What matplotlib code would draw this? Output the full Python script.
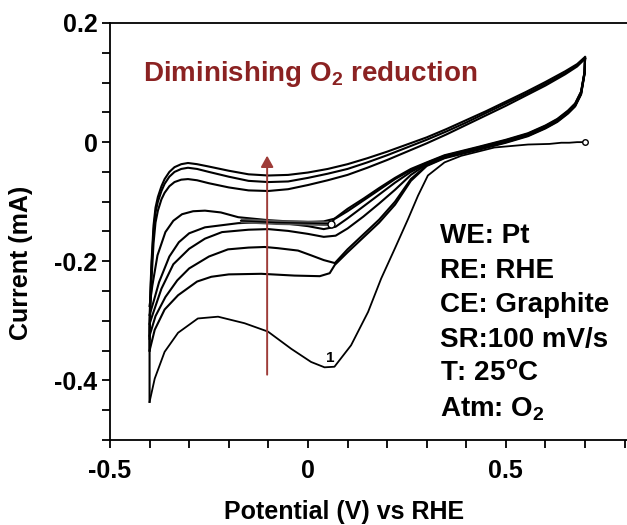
import matplotlib
matplotlib.use('Agg')
import matplotlib.pyplot as plt
from matplotlib.ticker import MultipleLocator

plt.rcParams['font.family'] = ['Liberation Sans', 'DejaVu Sans']
plt.rcParams['font.weight'] = 'bold'
plt.rcParams['axes.labelweight'] = 'bold'
plt.rcParams['mathtext.fontset'] = 'custom'
plt.rcParams['mathtext.rm'] = 'Liberation Sans:bold'
plt.rcParams['mathtext.bf'] = 'Liberation Sans:bold'

# cycle 1, cathodic scan (starts at 0.70 V, O2 reduction peak near 0.06 V)
c1_x = [0.700, 0.680, 0.660, 0.640, 0.610, 0.556, 0.471, 0.387, 0.345, 0.303, 0.278, 0.253,
        0.220, 0.185, 0.152, 0.109, 0.067, 0.042, 0.008, -0.042, -0.101, -0.160, -0.227,
        -0.278, -0.328, -0.362, -0.387, -0.400]
c1_y = [0.000, 0.000, -0.001, -0.001, -0.003, -0.004, -0.009, -0.023, -0.034, -0.056, -0.090,
        -0.129, -0.178, -0.229, -0.285, -0.341, -0.377, -0.378, -0.369, -0.347, -0.318,
        -0.304, -0.293, -0.296, -0.320, -0.352, -0.397, -0.436]

# later cathodic scans: shared part from the positive vertex
bundle_x = [0.700, 0.699, 0.690, 0.675, 0.657, 0.630, 0.600, 0.556, 0.500, 0.430, 0.345]
c2_top = [0.142, 0.115, 0.080, 0.060, 0.048, 0.034, 0.023, 0.010, -0.001, -0.013, -0.027]
c3_top = [0.141, 0.116, 0.081, 0.061, 0.049, 0.035, 0.024, 0.011, 0.000, -0.012, -0.026]
c4_top = [0.140, 0.117, 0.082, 0.062, 0.050, 0.036, 0.025, 0.012, 0.001, -0.011, -0.025]
c5_top = [0.140, 0.118, 0.083, 0.063, 0.051, 0.037, 0.026, 0.013, 0.002, -0.010, -0.024]
c6_top = [0.139, 0.118, 0.084, 0.064, 0.052, 0.038, 0.027, 0.014, 0.003, -0.009, -0.023]
c7_top = [0.139, 0.119, 0.085, 0.065, 0.053, 0.039, 0.028, 0.015, 0.004, -0.008, -0.022]

# cathodic scans, lower part
c2_x = [0.300, 0.260, 0.220, 0.180, 0.140, 0.100, 0.068, 0.055, 0.030, -0.034, -0.118, -0.200,
        -0.244, -0.280, -0.328, -0.362, -0.387, -0.400]
c2_y = [-0.040, -0.065, -0.105, -0.135, -0.160, -0.185, -0.206, -0.220, -0.225, -0.224, -0.221,
        -0.222, -0.226, -0.234, -0.257, -0.281, -0.315, -0.350]
c3_x = [0.300, 0.260, 0.220, 0.180, 0.140, 0.100, 0.068, 0.040, 0.008, -0.025, -0.076, -0.109,
        -0.150, -0.202, -0.250, -0.300, -0.330, -0.360, -0.385, -0.400]
c3_y = [-0.039, -0.062, -0.100, -0.130, -0.155, -0.180, -0.203, -0.198, -0.190, -0.182, -0.178,
        -0.176, -0.177, -0.180, -0.192, -0.212, -0.232, -0.260, -0.292, -0.325]
c4_x = [0.300, 0.260, 0.220, 0.180, 0.140, 0.100, 0.070, 0.040, 0.000, -0.050, -0.100, -0.150,
        -0.217, -0.260, -0.300, -0.340, -0.370, -0.390, -0.400]
c4_y = [-0.037, -0.055, -0.080, -0.103, -0.125, -0.145, -0.157, -0.159, -0.154, -0.149, -0.146,
        -0.147, -0.151, -0.162, -0.179, -0.205, -0.246, -0.285, -0.305]
c5_x = [0.300, 0.260, 0.220, 0.180, 0.140, 0.100, 0.070, 0.040, 0.000, -0.050, -0.100, -0.176,
        -0.260, -0.300, -0.326, -0.350, -0.376, -0.390, -0.400]
c5_y = [-0.036, -0.050, -0.068, -0.088, -0.108, -0.128, -0.142, -0.146, -0.141, -0.137, -0.134,
        -0.136, -0.143, -0.153, -0.168, -0.192, -0.235, -0.268, -0.290]
c6_x = [0.300, 0.260, 0.220, 0.180, 0.140, 0.100, 0.070, 0.040, 0.000, -0.050, -0.100, -0.176,
        -0.220, -0.260, -0.290, -0.318, -0.340, -0.360, -0.380, -0.393, -0.400]
c6_y = [-0.035, -0.047, -0.062, -0.080, -0.098, -0.116, -0.128, -0.133, -0.134, -0.133, -0.131,
        -0.126, -0.118, -0.115, -0.116, -0.121, -0.132, -0.151, -0.190, -0.241, -0.275]
# last (interrupted) scan
c7_x = [0.300, 0.260, 0.220, 0.180, 0.140, 0.100, 0.068, 0.058]
c7_y = [-0.034, -0.045, -0.060, -0.077, -0.095, -0.112, -0.128, -0.137]
flat_x = [0.058, 0.000, -0.080, -0.170]
flat_y = [-0.137, -0.136, -0.135, -0.132]

# anodic scans
an_x = [-0.400, -0.400, -0.398, -0.395, -0.390, -0.385, -0.379, -0.370, -0.362, -0.350, -0.337,
        -0.320, -0.303, -0.280, -0.250, -0.200, -0.150, -0.100, -0.050, 0.000, 0.050, 0.100,
        0.150, 0.200, 0.250, 0.300, 0.350, 0.400, 0.450, 0.500, 0.550, 0.600, 0.650, 0.680, 0.700]
an_top = [-0.330, -0.300, -0.250, -0.200, -0.140, -0.110, -0.092, -0.074, -0.062, -0.050, -0.042,
          -0.037, -0.035, -0.037, -0.041, -0.048, -0.054, -0.056, -0.055, -0.051, -0.045, -0.037,
          -0.027, -0.016, -0.004, 0.008, 0.022, 0.037, 0.052, 0.068, 0.084, 0.101, 0.119, 0.131, 0.143]
an_mid = [-0.350, -0.310, -0.260, -0.210, -0.150, -0.118, -0.100, -0.082, -0.070, -0.058, -0.050,
          -0.045, -0.043, -0.045, -0.050, -0.058, -0.065, -0.067, -0.066, -0.060, -0.053, -0.045,
          -0.034, -0.022, -0.009, 0.004, 0.018, 0.033, 0.049, 0.065, 0.081, 0.098, 0.116, 0.129, 0.141]
an_low = [-0.436, -0.330, -0.280, -0.230, -0.170, -0.135, -0.115, -0.096, -0.085, -0.074, -0.067,
          -0.063, -0.062, -0.064, -0.069, -0.076, -0.081, -0.082, -0.079, -0.072, -0.064, -0.055,
          -0.043, -0.030, -0.016, -0.002, 0.013, 0.029, 0.045, 0.061, 0.078, 0.095, 0.114, 0.127, 0.140]

conditions = ['WE: Pt', 'RE: RHE', 'CE: Graphite', 'SR:100 mV/s', 'T: 25$^{\\mathregular{o}}$C',
              'Atm: O$_{\\mathregular{2}}$']


def plot_graph():
    fig = plt.figure(figsize=(6.27, 5.25), dpi=100)
    ax = fig.add_axes([0.1754, 0.1619, 0.8246, 0.7943])

    lw = 1.5
    ax.plot(c1_x, c1_y, color='black', lw=1.3)
    for top, tx, ty in [(c2_top, c2_x, c2_y), (c3_top, c3_x, c3_y), (c4_top, c4_x, c4_y),
                        (c5_top, c5_x, c5_y), (c6_top, c6_x, c6_y), (c7_top, c7_x, c7_y)]:
        ax.plot(bundle_x + tx, top + ty, color='black', lw=lw)
    ax.plot(flat_x, flat_y, color='#555555', lw=3.5, solid_capstyle='butt')
    ax.plot(flat_x, flat_y, color='black', lw=1.0)
    for ys in [an_top, an_mid, an_low]:
        ax.plot(an_x, ys, color='black', lw=lw)

    ax.plot([c1_x[0]], [c1_y[0]], marker='o', ms=4, mfc='white', mec='black', mew=1)
    ax.plot([flat_x[0]], [flat_y[0]], marker='o', ms=5, mfc='white', mec='black', mew=1)
    ax.text(0.056, -0.362, '1', fontsize=11, ha='center', va='center')

    ax.annotate('', xy=(-0.103, -0.018), xytext=(-0.103, -0.395),
                arrowprops=dict(arrowstyle='-|>,head_length=0.45,head_width=0.25',
                                color='#9e3c38', lw=1.4, mutation_scale=15))
    ax.text(-0.417, 0.114, 'Diminishing O$_{\\mathregular{2}}$ reduction', color='#8b2222',
            fontsize=20, ha='left', va='center')

    for i, s in enumerate(conditions):
        ax.text(0.333, -0.158 - i * 0.058, s, fontsize=20, ha='left', va='center')

    ax.set_xlim(-0.5, 0.806)
    ax.set_ylim(-0.5, 0.2)
    ax.set_xticks([-0.5, 0, 0.5])
    ax.set_xticklabels(['-0.5', '0', '0.5'])
    ax.set_yticks([-0.4, -0.2, 0, 0.2])
    ax.set_yticklabels(['-0.4', '-0.2', '0', '0.2'])
    ax.xaxis.set_minor_locator(MultipleLocator(0.1))
    ax.yaxis.set_minor_locator(MultipleLocator(0.05))
    ax.tick_params(which='both', direction='out', length=6, width=1.3, labelsize=18)
    ax.tick_params(axis='x', pad=8)
    ax.tick_params(axis='y', pad=3)
    ax.spines['right'].set_visible(False)
    for sp in ['left', 'bottom', 'top']:
        ax.spines[sp].set_linewidth(1.3)

    ax.set_xlabel('Potential (V) vs RHE', fontsize=18)
    ax.set_ylabel('Current (mA)', fontsize=18)
    ax.xaxis.set_label_coords(0.453, -0.144)
    ax.yaxis.set_label_coords(-0.149, 0.424)

    fig.savefig('out.png', dpi=100)


def main():
    plot_graph()


if __name__ == "__main__":
    main()
